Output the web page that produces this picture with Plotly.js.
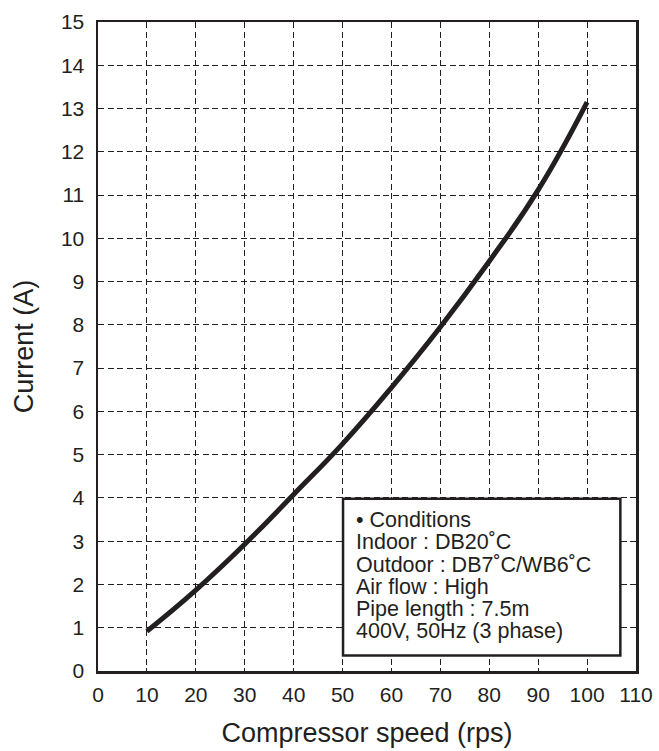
<!DOCTYPE html>
<html>
<head>
<meta charset="utf-8">
<script src="https://cdn.plot.ly/plotly-3.0.1.min.js"></script>
<style>
  html, body { margin: 0; padding: 0; background: #fff; }
  #chart { width: 659px; height: 751px; }
</style>
</head>
<body>
<div id="chart"></div>
<script>
// compressor speed (rps) vs current (A)
const speed = [10, 20, 30, 40, 50, 60, 70, 80, 90, 100];
const current = [0.92, 1.87, 2.93, 4.08, 5.25, 6.55, 7.95, 9.47, 11.12, 13.15];

const xTicks = [0, 10, 20, 30, 40, 50, 60, 70, 80, 90, 100, 110];
const yTicks = [0, 1, 2, 3, 4, 5, 6, 7, 8, 9, 10, 11, 12, 13, 14, 15];

const conditions = [
  "• Conditions",
  "Indoor : DB20˚C",
  "Outdoor : DB7˚C/WB6˚C",
  "Air flow : High",
  "Pipe length : 7.5m",
  "400V, 50Hz (3 phase)"
];

const INK = "#231f20";
const FONT = "Liberation Sans, Arial, Helvetica, sans-serif";

var data = [{
  type: "scatter",
  x: speed,
  y: current,
  mode: "lines",
  line: { color: INK, width: 5, shape: "spline", smoothing: 1.3 },
  hoverinfo: "x+y"
}];

var axisCommon = {
  showline: true,
  mirror: true,
  linecolor: INK,
  linewidth: 2.5,
  showgrid: true,
  gridcolor: INK,
  gridwidth: 1,
  griddash: "6px,3.5px",
  zeroline: false,
  ticks: "",
  tickfont: { family: FONT, size: 21, color: INK },
  fixedrange: true
};

var layout = {
  width: 659,
  height: 751,
  showlegend: false,
  margin: { l: 98, r: 23, t: 22, b: 80 },
  paper_bgcolor: "#fff",
  plot_bgcolor: "#fff",
  font: { family: FONT, color: INK },
  xaxis: Object.assign({}, axisCommon, {
    range: [0, 110],
    tickvals: xTicks,
    ticktext: xTicks.map(String),
    ticklabelstandoff: 3,
    title: { text: "Compressor speed (rps)", font: { family: FONT, size: 27, color: INK }, standoff: 19 }
  }),
  yaxis: Object.assign({}, axisCommon, {
    range: [0, 15],
    tickvals: yTicks,
    ticktext: yTicks.map(String),
    ticklabelstandoff: 7,
    title: { text: "Current (A)", font: { family: FONT, size: 27, color: INK }, standoff: 20 }
  }),
  shapes: [{
    type: "rect",
    xref: "x", yref: "y",
    x0: 50.1, x1: 106.8, y0: 0.36, y1: 3.98,
    line: { color: INK, width: 2.5 },
    fillcolor: "#fff",
    layer: "above"
  }],
  // one annotation per line keeps the tight line spacing of the original
  annotations: conditions.map(function (line, i) {
    return {
      xref: "x", yref: "y",
      x: 52.4, y: 3.49 - i * 0.515,
      xanchor: "left", yanchor: "middle",
      showarrow: false,
      text: line,
      font: { family: FONT, size: 21.5, color: INK }
    };
  })
};

Plotly.newPlot("chart", data, layout, { displayModeBar: false, staticPlot: true });
</script>
</body>
</html>
